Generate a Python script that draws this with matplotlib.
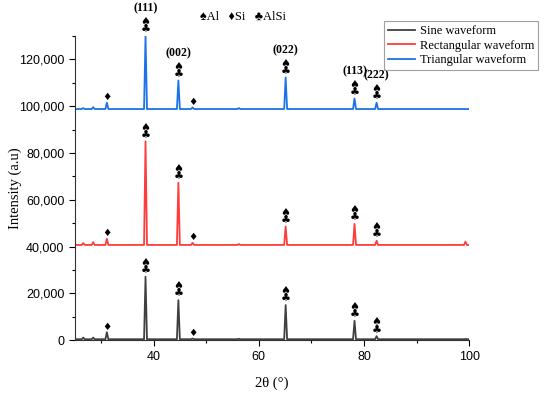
import matplotlib
matplotlib.use('Agg')
import matplotlib.pyplot as plt
from matplotlib.ticker import MultipleLocator, FuncFormatter

# peak positions (2theta) shared by the three patterns
peak_pos = [26.6, 28.5, 31.1, 38.45, 44.7, 47.4, 56.2, 65.1, 78.2, 82.4, 99.3]
two_theta_range = [25.0, 99.8]

# baseline and peak tops (counts)
sine_base = 400
sine_peaks = [1100, 1100, 3400, 27100, 17100, 700, 600, 15000, 8300, 1700, 500]
rect_base = 40700
rect_peaks = [41500, 41900, 43300, 85000, 67300, 41600, 41100, 48600, 49700, 42500, 42100]
tri_base = 98800
tri_peaks = [99200, 99600, 101500, 130000, 111000, 99500, 99200, 112300, 103300, 101500, 98800]

series_names = ['Sine waveform', 'Rectangular waveform', 'Triangular waveform']
series_colors = ['#404040', '#ff3b3b', '#1a73e8']

# phase markers
si_peaks = [31.1, 47.4]
al_peaks = [38.45, 44.7, 65.1, 78.2, 82.4]
hkl_labels = ['(111)', '(002)', '(022)', '(113)', '(222)']

serif = ['Liberation Serif', 'DejaVu Sans']
sym = ['DejaVu Sans']


def profile(base, tops):
    xs = [two_theta_range[0]]
    ys = [base]
    for p, t in zip(peak_pos, tops):
        xs += [p - 0.28, p, p + 0.28]
        ys += [base, t, base]
    xs.append(two_theta_range[1])
    ys.append(base)
    return xs, ys


fig = plt.figure(figsize=(5.5, 3.96), dpi=100)
ax = fig.add_axes([0.136, 0.141, 0.717, 0.768])

all_series = [(sine_base, sine_peaks), (rect_base, rect_peaks), (tri_base, tri_peaks)]
for (base, tops), name, c in zip(all_series, series_names, series_colors):
    x, y = profile(base, tops)
    ax.plot(x, y, color=c, lw=1.3, label=name)

    for p, t in zip(peak_pos, tops):
        if p in si_peaks:
            ax.annotate('\u2666', (p, t), xytext=(0, 0.5), textcoords='offset points',
                        ha='center', va='bottom', fontsize=7.5, family=sym)
        elif p in al_peaks:
            ax.annotate('\u2660\n\u2663', (p, t), xytext=(0, 0.5), textcoords='offset points',
                        ha='center', va='bottom', fontsize=8, family=sym, linespacing=0.75)

# hkl labels on the top pattern
for p, lab in zip(al_peaks, hkl_labels):
    t = tri_peaks[peak_pos.index(p)]
    ax.annotate(lab, (p, t), xytext=(0, 15.5), textcoords='offset points',
                ha='center', va='bottom', fontsize=8.5, fontweight='bold', family=serif)

ax.set_xlim(25, 100)
ax.set_ylim(0, 130000)
ax.xaxis.set_major_locator(MultipleLocator(20))
ax.xaxis.set_minor_locator(MultipleLocator(10))
ax.yaxis.set_major_locator(MultipleLocator(20000))
ax.yaxis.set_minor_locator(MultipleLocator(10000))
ax.yaxis.set_major_formatter(FuncFormatter(lambda v, _: f'{int(v):,}'))
ax.tick_params(which='both', direction='out', labelsize=9, width=0.8)
ax.tick_params(which='major', length=4)
ax.tick_params(which='minor', length=2.5)
for lbl in ax.get_xticklabels() + ax.get_yticklabels():
    lbl.set_family('Liberation Sans')
ax.spines['top'].set_visible(False)
ax.spines['right'].set_visible(False)
ax.spines['left'].set_color('#333333')
ax.spines['bottom'].set_color('#333333')

ax.set_xlabel('2\u03b8 (\u00b0)', family=serif, fontsize=10.5, labelpad=10)
ax.set_ylabel('Intensity (a.u)', family=serif, fontsize=10.5)
ax.yaxis.set_label_coords(-0.135, 0.5)

leg = fig.legend(loc='upper right', bbox_to_anchor=(0.99, 0.962), prop={'family': serif, 'size': 9},
                 frameon=True, fancybox=False, edgecolor='#888888', handlelength=2.2,
                 borderpad=0.3, labelspacing=0.2, handletextpad=0.4)
leg.get_frame().set_linewidth(0.8)

fig.text(0.364, 0.957, '\u2660Al   \u2666Si   \u2663AlSi', family=serif, fontsize=9,
         va='center', ha='left')

fig.savefig('out.png', dpi=100)
